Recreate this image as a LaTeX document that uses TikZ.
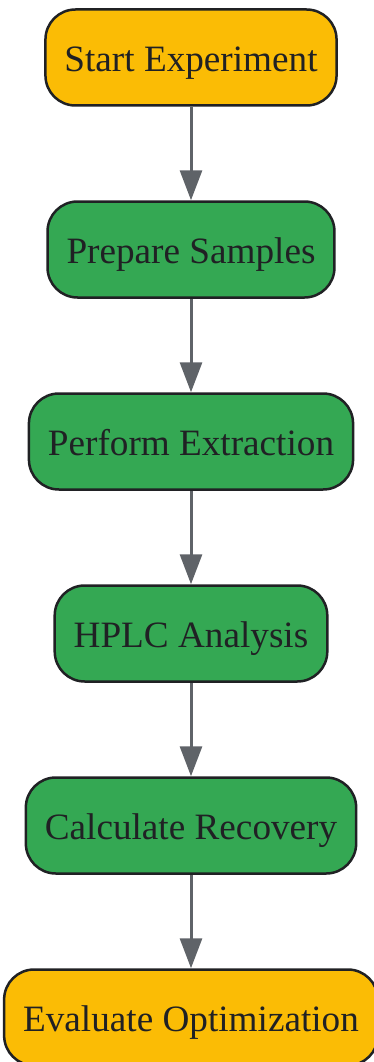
\documentclass[tikz,border=0pt]{standalone}
\usepackage{fontspec}
\setmainfont{Liberation Serif}
\usepackage{tikz}
\usetikzlibrary{positioning,arrows.meta}
\definecolor{startyellow}{HTML}{FBBC05}
\definecolor{stepgreen}{HTML}{34A853}
\definecolor{edgedark}{HTML}{202124}
\definecolor{arrowgrey}{HTML}{5F6368}
\begin{document}
\begin{tikzpicture}[x=1pt, y=1pt,
    box/.style={draw=edgedark, line width=2.5pt, rounded corners=30pt,
      minimum height=96pt, inner xsep=19pt, text=edgedark,
      font=\fontsize{37.2}{44}\selectfont, text height=32pt, text depth=4pt},
    endbox/.style={box, fill=startyellow},
    stepbox/.style={box, fill=stepgreen},
    node distance=93.5pt]
    \useasboundingbox (0,0) rectangle (373,-1062);
    \node[endbox]  (start)    at (191,-57.5)      {Start Experiment};
    \node[stepbox] (prepare)  [below=of start]    {Prepare Samples};
    \node[stepbox] (extract)  [below=of prepare]  {Perform Extraction};
    \node[stepbox] (hplc)     [below=of extract]  {HPLC Analysis};
    \node[stepbox] (recovery) [below=of hplc]     {Calculate Recovery};
    \node[endbox]  (evaluate) [below=of recovery] {Evaluate Optimization};
    \path[color=arrowgrey, line width=3pt, -{Triangle[length=30pt, width=22pt]}]
      (start)    edge (prepare)
      (prepare)  edge (extract)
      (extract)  edge (hplc)
      (hplc)     edge (recovery)
      (recovery) edge (evaluate);
\end{tikzpicture}
\end{document}
